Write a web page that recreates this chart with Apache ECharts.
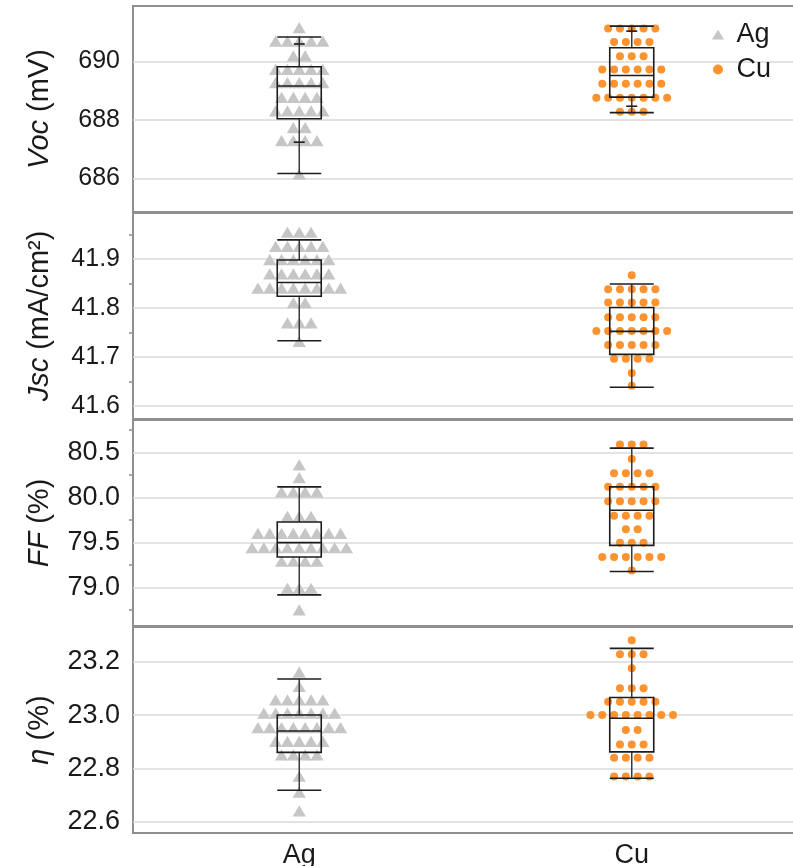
<!DOCTYPE html>
<html><head><meta charset="utf-8">
<script src="https://cdn.jsdelivr.net/npm/echarts@6/dist/echarts.min.js"></script>
<style>html,body{margin:0;padding:0;background:#fff}#c{width:793px;height:866px}</style>
</head><body><div id="c"></div>
<script>
const categories = ['Ag', 'Cu'];

// Voc (mV)
const vocTicks = [686, 688, 690];
const vocAg = [691.15, 690.69, 690.69, 690.69, 690.69, 690.69, 690.18, 690.18,
  689.72, 689.72, 689.72, 689.72, 689.72, 689.27, 689.27, 689.27, 689.27, 689.27,
  688.76, 688.76, 688.76, 688.76, 688.30, 688.30, 688.30, 688.30, 688.30,
  687.73, 687.73, 687.28, 687.28, 687.28, 687.28, 686.14];
const vocCu = [691.13, 691.13, 691.13, 691.13, 691.13, 690.67, 690.67, 690.67, 690.67,
  690.18, 690.18, 690.18, 689.73, 689.73, 689.73, 689.73, 689.73, 689.73,
  689.24, 689.24, 689.24, 689.24, 689.24, 689.24,
  688.76, 688.76, 688.76, 688.76, 688.76, 688.76, 688.76, 688.28, 688.28, 688.28];
const vocBoxAg = [686.17, 688.04, 689.16, 689.82, 690.84];
const vocBoxCu = [688.25, 688.78, 689.52, 690.47, 691.21];
const vocInnerAg = [687.24, 690.60];
const vocInnerCu = [688.47, 691.04];

// Jsc (mA/cm2)
const jscTicks = [41.6, 41.7, 41.8, 41.9];
const jscMinor = [41.65, 41.75, 41.85, 41.95];
const jscAg = [41.954, 41.954, 41.954, 41.925, 41.925, 41.925, 41.925, 41.925,
  41.898, 41.898, 41.898, 41.898, 41.898, 41.898, 41.869, 41.869, 41.869, 41.869, 41.869, 41.869,
  41.840, 41.840, 41.840, 41.840, 41.840, 41.840, 41.840, 41.840,
  41.810, 41.810, 41.769, 41.769, 41.769, 41.731];
const jscCu = [41.867, 41.838, 41.838, 41.838, 41.838, 41.838, 41.811, 41.811, 41.811, 41.811, 41.811,
  41.781, 41.781, 41.781, 41.781, 41.781, 41.753, 41.753, 41.753, 41.753, 41.753, 41.753, 41.753,
  41.724, 41.724, 41.724, 41.724, 41.724, 41.696, 41.696, 41.696, 41.696, 41.667, 41.641];
const jscBoxAg = [41.733, 41.824, 41.852, 41.898, 41.939];
const jscBoxCu = [41.638, 41.705, 41.752, 41.801, 41.849];

// FF (%)
const ffTicks = [79.0, 79.5, 80.0, 80.5];
const ffMinor = [78.75, 79.25, 79.75, 80.25, 80.75];
const ffAg = [80.36, 80.22, 80.06, 80.06, 80.06, 80.06, 79.79, 79.79, 79.79,
  79.60, 79.60, 79.60, 79.60, 79.60, 79.60, 79.60, 79.60,
  79.44, 79.44, 79.44, 79.44, 79.44, 79.44, 79.44, 79.44, 79.44,
  79.29, 79.29, 79.29, 79.29, 78.99, 78.99, 78.99, 78.75];
const ffCu = [80.59, 80.59, 80.59, 80.43, 80.27, 80.27, 80.27, 80.27,
  80.12, 80.12, 80.12, 80.12, 80.12, 79.96, 79.96, 79.96, 79.96, 79.96,
  79.80, 79.80, 79.80, 79.80, 79.65, 79.65, 79.50, 79.50, 79.50,
  79.34, 79.34, 79.34, 79.34, 79.34, 79.34, 79.19];
const ffBoxAg = [78.92, 79.34, 79.50, 79.73, 80.12];
const ffBoxCu = [79.18, 79.47, 79.86, 80.12, 80.55];

// eta (%)
const etaTicks = [22.6, 22.8, 23.0, 23.2];
const etaAg = [23.16, 23.106, 23.056, 23.056, 23.056, 23.056, 23.056,
  23.006, 23.006, 23.006, 23.006, 23.006, 23.006, 23.006,
  22.952, 22.952, 22.952, 22.952, 22.952, 22.952, 22.952, 22.952,
  22.90, 22.90, 22.90, 22.90, 22.90, 22.85, 22.85, 22.85, 22.85, 22.77, 22.71, 22.64];
const etaCu = [23.28, 23.228, 23.228, 23.228, 23.175, 23.10, 23.10, 23.10,
  23.05, 23.05, 23.05, 23.05, 23.05, 23.0, 23.0, 23.0, 23.0, 23.0, 23.0, 23.0, 23.0,
  22.944, 22.944, 22.89, 22.89, 22.89, 22.84, 22.84, 22.84, 22.84, 22.77, 22.77, 22.77, 22.77];
const etaBoxAg = [22.718, 22.86, 22.94, 23.0, 23.135];
const etaBoxCu = [22.763, 22.862, 22.988, 23.066, 23.25];

const AG_COLOR = '#c6c6c6';
const CU_COLOR = '#fb9331';
const TEXT = '#1a1a1a';
const AXIS_GRAY = '#8f8f8f';
const FONT = "'Liberation Sans', Arial, Helvetica, sans-serif";
const SPACING = 11.8;

const panels = [
  { name: '{i|Voc} (mV)', min: 684.85, max: 691.9, ticks: vocTicks, minor: null, dec: 0, fs: 25,
    ag: vocAg, cu: vocCu, boxes: [vocBoxAg, vocBoxCu], inners: [vocInnerAg, vocInnerCu] },
  { name: '{i|Jsc} (mA/cm²)', min: 41.573, max: 41.994, ticks: jscTicks, minor: jscMinor, dec: 1, fs: 25,
    ag: jscAg, cu: jscCu, boxes: [jscBoxAg, jscBoxCu], inners: [null, null] },
  { name: '{i|FF} (%)', min: 78.574, max: 80.863, ticks: ffTicks, minor: ffMinor, dec: 1, fs: 27,
    ag: ffAg, cu: ffCu, boxes: [ffBoxAg, ffBoxCu], inners: [null, null] },
  { name: '{i|η} (%)', min: 22.558, max: 23.33, ticks: etaTicks, minor: null, dec: 1, fs: 27,
    ag: etaAg, cu: etaCu, boxes: [etaBoxAg, etaBoxCu], inners: [null, null] }
];
const tops = [6, 213, 420, 627];
const PH = 206;

function swarm(values, catIdx) {
  const counts = new Map();
  values.forEach(v => counts.set(v, (counts.get(v) || 0) + 1));
  const seen = new Map();
  return values.map(v => {
    const n = counts.get(v); const k = seen.get(v) || 0; seen.set(v, k + 1);
    return [catIdx, v, (k - (n - 1) / 2) * SPACING];
  });
}

function triRender(params, api) {
  const p = api.coord([api.value(0), api.value(1)]);
  const x = p[0] + api.value(2), y = p[1];
  return { type: 'polygon', shape: { points: [[x - 6.6, y + 5.3], [x + 6.6, y + 5.3], [x, y - 5.9]] },
    style: { fill: AG_COLOR } };
}
function circRender(params, api) {
  const p = api.coord([api.value(0), api.value(1)]);
  return { type: 'circle', shape: { cx: p[0] + api.value(2), cy: p[1], r: 4 }, style: { fill: CU_COLOR } };
}
function boxRender(inners) {
  return function (params, api) {
    const c = api.value(0);
    const v = [1, 2, 3, 4, 5].map(k => api.value(k));
    const xc = api.coord([c, v[2]])[0];
    const Y = val => api.coord([c, val])[1];
    const hw = 22;
    const dark = { stroke: '#1c1c1c', lineWidth: 1.6, fill: null };
    const wh = { stroke: '#3a3a3a', lineWidth: 1.5 };
    const L = (x1, y1, x2, y2, st) => ({ type: 'line', shape: { x1, y1, x2, y2 }, style: st });
    const ch = [
      L(xc, Y(v[0]), xc, Y(v[1]), wh),
      L(xc, Y(v[3]), xc, Y(v[4]), wh),
      { type: 'rect', shape: { x: xc - hw, y: Y(v[3]), width: 2 * hw, height: Y(v[1]) - Y(v[3]) }, style: dark },
      L(xc - hw, Y(v[2]), xc + hw, Y(v[2]), dark),
      L(xc - hw, Y(v[0]), xc + hw, Y(v[0]), dark),
      L(xc - hw, Y(v[4]), xc + hw, Y(v[4]), dark)
    ];
    const inn = inners[c];
    if (inn) inn.forEach(iv => ch.push(L(xc - 5.5, Y(iv), xc + 5.5, Y(iv), dark)));
    return { type: 'group', children: ch };
  };
}

const grid = [], xAxis = [], yAxis = [], series = [];
panels.forEach((P, i) => {
  grid.push({ left: 133, width: 665, top: tops[i], height: PH, show: true,
    outerBoundsMode: 'none', containLabel: false,
    borderColor: AXIS_GRAY, borderWidth: 2, backgroundColor: 'transparent' });
  xAxis.push({ type: 'category', gridIndex: i, data: categories,
    axisLine: { show: false }, axisTick: { show: false }, splitLine: { show: false },
    axisLabel: { show: i === 3, fontSize: 27, color: TEXT, fontFamily: FONT, margin: 9 } });
  yAxis.push({ type: 'value', gridIndex: i, min: P.min, max: P.max,
    name: P.name, nameLocation: 'middle', nameGap: 79,
    nameTextStyle: { fontSize: 29, color: TEXT, fontFamily: FONT,
      rich: { i: { fontStyle: 'italic', fontSize: 29, color: TEXT, fontFamily: FONT } } },
    axisLine: { show: false },
    axisTick: { show: false, customValues: P.ticks },
    axisLabel: { customValues: P.ticks, fontSize: P.fs, color: TEXT, fontFamily: FONT, margin: 13,
      formatter: val => Number(val).toFixed(P.dec) },
    splitLine: { show: true, lineStyle: { color: '#dadada', width: 1.5 } } });
});
panels.forEach((P, i) => {
  if (!P.minor) return;
  yAxis.push({ type: 'value', gridIndex: i, min: P.min, max: P.max, position: 'left', offset: 0,
    axisLine: { show: false }, axisLabel: { show: false }, splitLine: { show: false },
    axisTick: { show: true, customValues: P.minor, length: 4, lineStyle: { color: AXIS_GRAY, width: 1.5 } } });
});
panels.forEach((P, i) => {
  series.push({ type: 'custom', name: 'Ag', coordinateSystem: 'cartesian2d', xAxisIndex: i, yAxisIndex: i,
    itemStyle: { color: AG_COLOR }, encode: { x: 0, y: 1 }, data: swarm(P.ag, 0), renderItem: triRender, z: 2 });
  series.push({ type: 'custom', name: 'Cu', coordinateSystem: 'cartesian2d', xAxisIndex: i, yAxisIndex: i,
    itemStyle: { color: CU_COLOR }, encode: { x: 0, y: 1 }, data: swarm(P.cu, 1), renderItem: circRender, z: 2 });
  series.push({ type: 'custom', name: 'box', coordinateSystem: 'cartesian2d', xAxisIndex: i, yAxisIndex: i,
    encode: { x: 0, y: [1, 2, 3, 4, 5] }, z: 3,
    data: [[0, ...P.boxes[0]], [1, ...P.boxes[1]]], renderItem: boxRender(P.inners) });
});

const chart = echarts.init(document.getElementById('c'), null, { renderer: 'canvas' });
chart.setOption({
  animation: false,
  backgroundColor: '#ffffff',
  textStyle: { fontFamily: FONT },
  legend: { orient: 'vertical', left: 712, top: 21, itemWidth: 12, itemHeight: 10, itemGap: 8, padding: 0,
    formatter: n => ' ' + n,
    textStyle: { fontSize: 27, color: TEXT, fontFamily: FONT, lineHeight: 27 },
    data: [{ name: 'Ag', icon: 'triangle', itemStyle: { color: AG_COLOR } },
           { name: 'Cu', icon: 'circle', itemStyle: { color: CU_COLOR } }] },
  grid, xAxis, yAxis, series
});
</script></body></html>
